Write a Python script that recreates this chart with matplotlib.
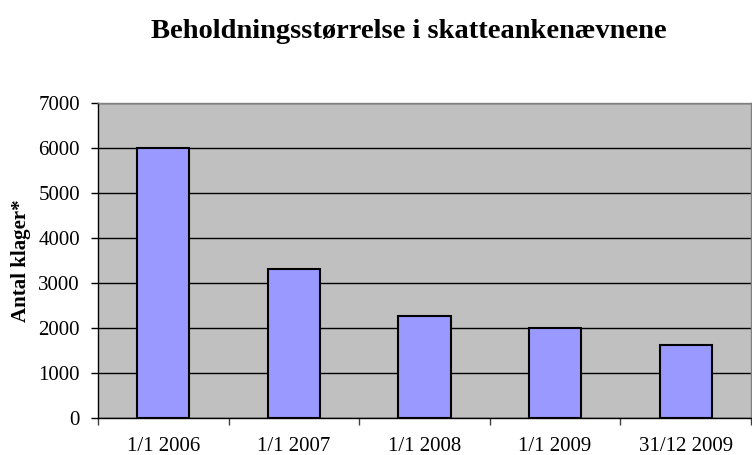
import matplotlib
matplotlib.use("Agg")
import matplotlib.pyplot as plt
import numpy as np

categories = ["1/1 2006", "1/1 2007", "1/1 2008", "1/1 2009", "31/12 2009"]
values = [6000, 3310, 2260, 1990, 1620]
yticks = [0, 1000, 2000, 3000, 4000, 5000, 6000, 7000]

plt.rcParams['font.family'] = ['Liberation Serif', 'DejaVu Serif']

W, H = 752, 455
fig = plt.figure(figsize=(W / 100, H / 100), dpi=100)
ax = fig.add_axes([98 / W, 1 - 418 / H, (751 - 98) / W, (418 - 103) / H])
ax.set_facecolor("#C0C0C0")

x = np.arange(len(categories))
ax.bar(x, values, width=0.4, color="#9999FF", edgecolor="black", linewidth=1.5, zorder=3)

ax.set_xlim(-0.5, len(categories) - 0.5)
ax.set_ylim(0, 7000)
ax.set_yticks(yticks)
ax.set_yticklabels([str(v) for v in yticks], fontsize=15)
ax.yaxis.grid(True, color="black", linewidth=1.0, zorder=1)
ax.set_axisbelow(True)

ax.set_xticks(np.arange(-0.5, len(categories), 1.0))
ax.set_xticklabels([])
ax.set_xticks(x, minor=True)
ax.set_xticklabels(categories, minor=True, fontsize=15)
ax.tick_params(axis='x', which='minor', length=0, pad=13.5)
ax.tick_params(axis='x', which='major', length=5, width=1, color="#404040")
ax.tick_params(axis='y', length=5, width=1, pad=8)

for s in ['left', 'bottom']:
    ax.spines[s].set_color("black")
    ax.spines[s].set_linewidth(1.0)
for s in ['top', 'right']:
    ax.spines[s].set_color("#808080")
    ax.spines[s].set_linewidth(1.0)

ax.set_ylabel("Antal klager*", fontsize=15, fontweight='bold', labelpad=5)

fig.text(409 / W, 1 - 37.5 / H, "Beholdningsstørrelse i skatteankenævnene",
         ha='center', va='baseline', fontsize=20.5, fontweight='bold')

fig.savefig("out.png", dpi=100, facecolor="white")
